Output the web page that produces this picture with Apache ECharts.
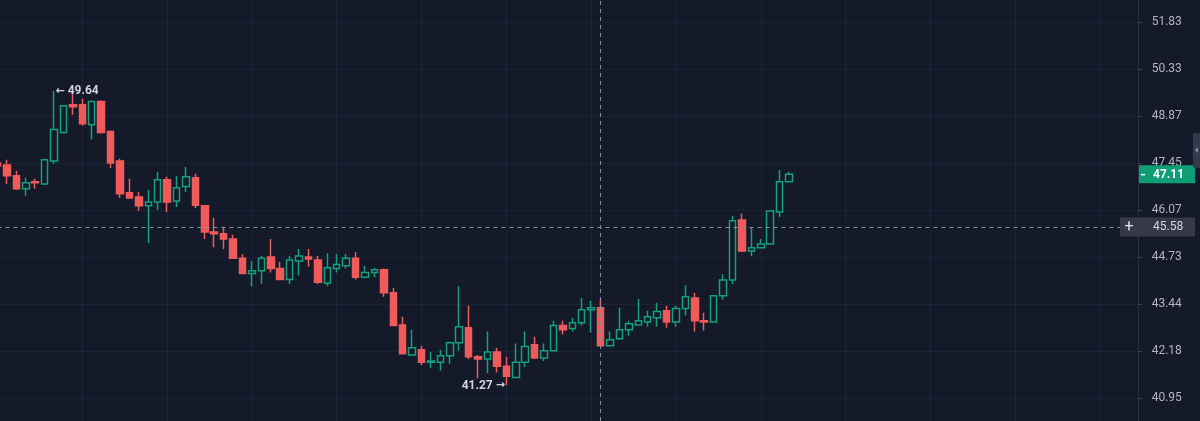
<!DOCTYPE html>
<html>
<head>
<meta charset="utf-8">
<script src="https://cdn.jsdelivr.net/npm/echarts@6/dist/echarts.min.js"></script>
<style>
  html, body { margin: 0; padding: 0; background: #151a2b; overflow: hidden; width: 1200px; height: 421px; position: relative; }
  /* chart box runs past the window so the scale spans -1..9 tick steps */
  #chart { position: absolute; left: -3px; top: -25px; width: 1203px; height: 470px; }
</style>
</head>
<body>
<div id="chart"></div>
<script>
// price scale labels (log spaced)
const yTicks = [40.95, 42.18, 43.44, 44.73, 46.07, 47.45, 48.87, 50.33, 51.83];

const opens = [47.45, 47.39, 47.07, 46.69, 46.89, 46.83, 47.51, 48.36, 49.21, 49.21,
  48.60, 49.31, 48.39, 47.51, 46.57, 46.45, 46.19, 46.30, 46.95, 46.33,
  46.75, 47.01, 46.19, 45.44, 45.39, 45.24, 44.70, 44.27, 44.35, 44.73,
  44.41, 44.11, 44.62, 44.73, 44.65, 44.00, 44.41, 44.49, 44.70, 44.17,
  44.30, 44.38, 43.74, 42.87, 42.07, 42.21, 41.88, 41.88, 42.05, 42.39,
  42.79, 42.02, 41.96, 42.15, 41.77, 41.48, 41.88, 42.34, 41.99, 42.18,
  42.85, 42.77, 42.93, 43.28, 43.33, 42.31, 42.50, 42.74, 42.87, 42.95,
  43.06, 43.25, 42.95, 43.31, 43.60, 42.98, 42.95, 43.66, 44.09, 45.78,
  44.90, 44.99, 45.10, 46.01, 46.89];

const closes = [47.36, 47.07, 46.69, 46.86, 46.86, 47.54, 48.45, 49.18, 49.15, 48.63,
  49.31, 48.36, 47.45, 46.54, 46.42, 46.19, 46.30, 46.95, 46.30, 46.72,
  47.04, 46.21, 45.44, 45.39, 45.24, 44.70, 44.27, 44.35, 44.70, 44.41,
  44.11, 44.65, 44.76, 44.68, 44.03, 44.43, 44.52, 44.70, 44.17, 44.30,
  44.38, 43.74, 42.85, 42.10, 42.26, 41.88, 41.91, 42.05, 42.39, 42.82,
  42.02, 41.96, 42.15, 41.77, 41.51, 41.88, 42.29, 41.99, 42.18, 42.85,
  42.74, 42.93, 43.28, 43.33, 42.31, 42.47, 42.74, 42.90, 42.98, 43.09,
  43.23, 42.95, 43.31, 43.63, 42.98, 42.95, 43.66, 44.09, 45.76, 44.90,
  44.99, 45.10, 46.04, 46.89, 47.11];

const lows = [47.30, 46.83, 46.66, 46.48, 46.69, 46.83, 47.42, 48.33, 48.90, 48.57,
  48.15, 48.33, 47.30, 46.42, 46.40, 46.04, 45.13, 46.07, 46.01, 46.16,
  46.60, 46.13, 45.24, 45.01, 44.96, 44.68, 44.25, 43.92, 43.98, 44.30,
  44.09, 43.98, 44.22, 44.46, 43.98, 43.92, 44.30, 44.41, 44.11, 44.14,
  44.17, 43.63, 42.84, 42.09, 42.05, 41.80, 41.72, 41.66, 41.83, 42.18,
  41.96, 41.46, 41.59, 41.61, 41.27, 41.46, 41.75, 41.96, 41.91, 42.16,
  42.61, 42.69, 42.85, 42.66, 42.29, 42.29, 42.47, 42.58, 42.85, 42.82,
  42.82, 42.79, 42.82, 43.12, 42.69, 42.72, 42.95, 43.55, 43.98, 44.87,
  44.76, 44.98, 45.10, 45.87, 46.89];

const highs = [47.54, 47.54, 47.22, 47.01, 46.98, 47.57, 49.64, 49.20, 49.58, 49.40,
  49.34, 49.34, 48.42, 47.57, 46.98, 46.60, 46.66, 47.19, 47.04, 47.07,
  47.33, 47.13, 46.21, 45.84, 45.59, 45.36, 44.82, 44.62, 44.76, 45.24,
  44.60, 44.76, 44.96, 44.96, 44.76, 44.84, 44.82, 44.82, 44.87, 44.49,
  44.43, 44.41, 43.87, 43.09, 42.74, 42.31, 42.15, 42.21, 42.42, 43.92,
  43.39, 42.07, 42.69, 42.26, 42.02, 42.37, 42.69, 42.55, 42.37, 42.98,
  42.98, 43.06, 43.60, 43.52, 43.57, 42.69, 43.33, 42.98, 43.57, 43.25,
  43.47, 43.39, 43.39, 43.95, 43.74, 43.20, 43.68, 44.25, 45.90, 45.96,
  45.56, 45.24, 46.04, 47.24, 47.19];

// bar slots, including empty space to the right of the last candle
const categories = Array.from({ length: 122 }, (_, i) => String(i + 1));

const highMark = { index: 6, price: 49.64 };
const lowMark = { index: 54, price: 41.27 };
const crossIndex = 64;
const crossPrice = 45.58;
const lastPrice = 47.11;

const bg = "#151a2b";
const upColor = "#13a17b";
const downColor = "#ef5b5b";
const gridColor = "#1d2234";

// page offset of the chart box (see css)
const ox = 3, oy = 25;

// log price scale: one unit per tick step
const step = Math.log(yTicks[yTicks.length - 1] / yTicks[0]) / (yTicks.length - 1);
const toU = (p) => Math.log(p / yTicks[0]) / step;

const ohlc = opens.map((o, i) => [toU(o), toU(closes[i]), toU(lows[i]), toU(highs[i])]);

const arrowStyle = { fontFamily: "DejaVu Sans", fontSize: 11, fontWeight: "bold", color: "#d1d4dc" };

const chart = echarts.init(document.getElementById("chart"));

chart.setOption({
  animation: false,
  backgroundColor: bg,
  grid: { left: 0.5, right: 62.3, top: 0, bottom: 0 },
  xAxis: {
    type: "category",
    data: categories,
    boundaryGap: false,
    axisLine: { show: false },
    axisTick: { show: false },
    axisLabel: { show: false },
    splitLine: { show: true, interval: 8, lineStyle: { color: gridColor, width: 1 } },
  },
  yAxis: {
    type: "value",
    position: "right",
    offset: 1,
    min: -1,
    max: 9,
    interval: 1,
    axisLine: { show: true, lineStyle: { color: "#2b3042" } },
    axisTick: { show: true, length: 4, lineStyle: { color: "#3a3f52" } },
    axisLabel: {
      margin: 13,
      color: "#b2b5be",
      fontFamily: "Roboto",
      fontSize: 12,
      formatter: (v) => {
        const t = yTicks[Math.round(v)];
        return t === undefined ? "" : t.toFixed(2);
      },
    },
    splitLine: { show: true, lineStyle: { color: gridColor, width: 1 } },
  },
  series: [
    {
      type: "candlestick",
      data: ohlc,
      barWidth: 7,
      itemStyle: {
        color: bg,
        color0: downColor,
        borderColor: upColor,
        borderColor0: downColor,
        borderWidth: 1.5,
      },
      markLine: {
        silent: true,
        symbol: "none",
        label: { show: false },
        lineStyle: { color: "#8a8f9c", type: [4, 4], width: 1 },
        data: [{ xAxis: crossIndex }, { yAxis: toU(crossPrice) }],
      },
      markPoint: {
        symbol: "circle",
        symbolSize: 1,
        itemStyle: { color: "transparent" },
        label: {
          color: "#d1d4dc",
          fontFamily: "Roboto",
          fontSize: 12,
          fontWeight: "bold",
          rich: { a: arrowStyle },
        },
        data: [
          {
            coord: [highMark.index, toU(highMark.price)],
            label: { position: "right", distance: 1, formatter: "{a|←} " + highMark.price.toFixed(2) },
          },
          {
            coord: [lowMark.index, toU(lowMark.price)],
            label: { position: "left", distance: 1, formatter: lowMark.price.toFixed(2) + " {a|→}" },
          },
        ],
      },
    },
  ],
});

// price tags on the scale
const yCross = chart.convertToPixel({ yAxisIndex: 0 }, toU(crossPrice));
const yLast = chart.convertToPixel({ yAxisIndex: 0 }, toU(lastPrice));

chart.setOption({
  graphic: [
    { type: "rect", shape: { x: 1120 + ox, y: yCross - 9.5, width: 75, height: 19 }, style: { fill: "#363a47" }, z: 100 },
    {
      type: "text", x: 1129 + ox, y: yCross, z: 101,
      style: { text: "+", fill: "#e0e3eb", font: "16px Roboto", align: "center", verticalAlign: "middle" },
    },
    {
      type: "text", x: 1153 + ox, y: yCross, z: 101,
      style: { text: crossPrice.toFixed(2), fill: "#d1d4dc", font: "12px Roboto", verticalAlign: "middle" },
    },
    { type: "rect", shape: { x: 1139 + ox, y: yLast - 9, width: 56, height: 18 }, style: { fill: "#0f9d76" }, z: 100 },
    { type: "rect", shape: { x: 1141 + ox, y: yLast - 0.5, width: 4, height: 1.5 }, style: { fill: "#ffffff" }, z: 101 },
    {
      type: "text", x: 1153 + ox, y: yLast + 0.5, z: 101,
      style: { text: lastPrice.toFixed(2), fill: "#ffffff", font: "bold 12px Roboto", verticalAlign: "middle" },
    },
    { type: "rect", shape: { x: 1193 + ox, y: 133 + oy, width: 7, height: 35, r: [2, 0, 0, 2] }, style: { fill: "#343a4c" }, z: 100 },
    {
      type: "polygon", z: 101,
      shape: { points: [[1195 + ox, 150 + oy], [1198 + ox, 147 + oy], [1198 + ox, 153 + oy]] },
      style: { fill: "#8a90a2" },
    },
  ],
});
</script>
</body>
</html>
